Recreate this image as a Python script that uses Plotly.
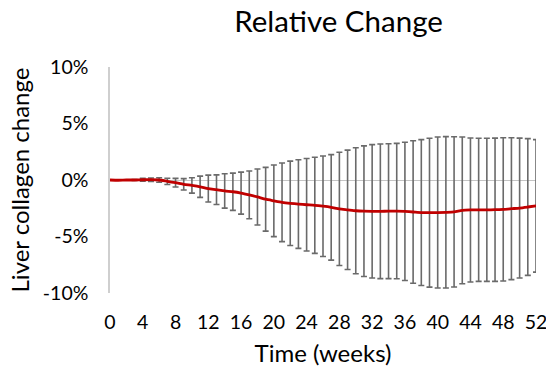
import plotly.graph_objects as go

weeks = list(range(0, 53))
mean_change = [0.0, -0.02, 0.0, 0.0, 0.02, 0.03, 0.0, -0.12, -0.24, -0.38,
               -0.48, -0.60, -0.76, -0.86, -0.97, -1.04, -1.16, -1.32, -1.50, -1.70,
               -1.84, -1.97, -2.06, -2.13, -2.19, -2.24, -2.32, -2.42, -2.56, -2.64,
               -2.72, -2.76, -2.77, -2.77, -2.76, -2.75, -2.78, -2.83, -2.88, -2.89,
               -2.88, -2.86, -2.82, -2.69, -2.65, -2.64, -2.64, -2.63, -2.60, -2.54,
               -2.48, -2.39, -2.29]
sd_change = [None, 0.0, None, 0.05, 0.12, 0.15, 0.20, 0.28, 0.38, 0.50,
             0.68, 0.94, 1.19, 1.31, 1.52, 1.65, 1.86, 2.11, 2.48, 2.82,
             3.17, 3.48, 3.73, 3.92, 4.09, 4.25, 4.45, 4.67, 5.01, 5.28,
             5.58, 5.78, 5.90, 5.96, 5.97, 5.99, 6.12, 6.31, 6.45, 6.59,
             6.68, 6.70, 6.65, 6.49, 6.37, 6.33, 6.33, 6.34, 6.34, 6.28,
             6.19, 6.05, 5.86]
x_ticks = list(range(0, 53, 4))
y_ticks = [-10, -5, 0, 5, 10]
y_tick_labels = ["-10%", "-5%", "0%", "5%", "10%"]

FONT = "Lato, 'Liberation Sans', Arial, sans-serif"

fig = go.Figure()
fig.add_trace(go.Scatter(
    x=weeks, y=mean_change, mode="markers",
    marker=dict(size=1, opacity=0),
    error_y=dict(type="data", array=sd_change, symmetric=True,
                 color="#6a6a6a", thickness=1.6, width=3),
    cliponaxis=False, showlegend=False, hoverinfo="skip",
))
fig.add_trace(go.Scatter(
    x=weeks, y=mean_change, mode="lines",
    line=dict(color="#C00000", width=2.8, shape="spline", smoothing=0.6),
    cliponaxis=False, showlegend=False,
))

fig.update_layout(
    width=546, height=371,
    margin=dict(l=110, r=10, t=67, b=78),
    paper_bgcolor="white", plot_bgcolor="white",
    font=dict(family=FONT, color="#000000", size=19.5),
    title=dict(text="Relative Change", x=0.62, xanchor="center",
               y=1 - 22 / 371, yanchor="middle",
               font=dict(family=FONT, size=29.5, color="#000000")),
    xaxis=dict(
        range=[0, 52], tickvals=x_ticks, ticktext=[str(v) for v in x_ticks],
        showgrid=False, zeroline=False, showline=False, ticks="",
        ticklabelstandoff=15, ticklabeloverflow="allow", automargin=False,
        title=dict(text="Time (weeks)", font=dict(size=24), standoff=13),
    ),
    yaxis=dict(
        range=[-10, 10], tickvals=y_ticks, ticktext=y_tick_labels,
        showgrid=False, zeroline=True, zerolinecolor="#c4c4c4", zerolinewidth=1.2,
        showline=True, linecolor="#cfcfcf", linewidth=1.5, ticks="",
        ticklabelstandoff=16, automargin=False,
        title=dict(text="Liver collagen change", font=dict(size=24), standoff=6),
    ),
)

fig.write_html("out.html")
